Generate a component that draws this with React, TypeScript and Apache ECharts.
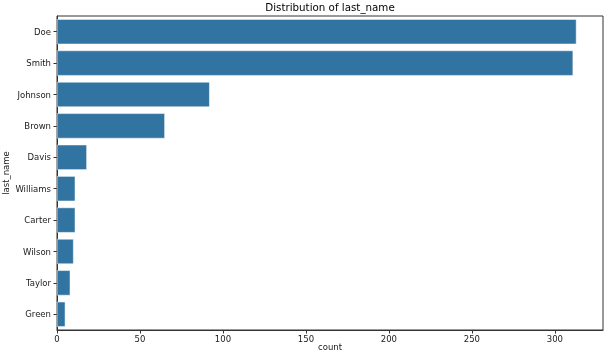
import React, { useEffect, useRef } from "react";
import * as echarts from "echarts";

const categories = ["Doe", "Smith", "Johnson", "Brown", "Davis", "Williams", "Carter", "Wilson", "Taylor", "Green"];
const counts = [313, 311, 92, 65, 18, 11, 11, 10, 8, 5];
const xTicks = { min: 0, max: 329, interval: 50 };
const title = "Distribution of last_name";
const xName = "count";
const yName = "last_name";

export default function App() {
  const ref = useRef<HTMLDivElement>(null);
  useEffect(() => {
    if (!ref.current) return;
    const chart = echarts.init(ref.current, null, { renderer: "svg" });
    const font = "DejaVu Sans";
    const textColor = "#1a1a1a";
    chart.setOption({
      animation: false,
      textStyle: { fontFamily: font },
      title: {
        text: title,
        left: 330,
        top: 2,
        padding: 0,
        textAlign: "center",
        textStyle: { fontFamily: font, fontSize: 10.3, fontWeight: "normal", color: "#000" },
      },
      grid: {
        left: 57,
        right: 3,
        top: 16,
        bottom: 24,
        containLabel: false,
        outerBoundsMode: "none",
        show: true,
        borderColor: "#333",
        borderWidth: 1,
        backgroundColor: "transparent",
      },
      graphic: [
        {
          type: "text",
          x: 6,
          y: 173,
          rotation: Math.PI / 2,
          style: {
            text: yName,
            fontFamily: font,
            fontSize: 8.5,
            fill: textColor,
            align: "center",
            verticalAlign: "middle",
          },
        },
        {
          type: "text",
          x: 330,
          y: 347,
          style: {
            text: xName,
            fontFamily: font,
            fontSize: 8.5,
            fill: textColor,
            align: "center",
            verticalAlign: "middle",
          },
        },
      ],
      xAxis: {
        type: "value",
        min: xTicks.min,
        max: xTicks.max,
        interval: xTicks.interval,
        axisLine: { show: true, lineStyle: { color: "#333", width: 1 } },
        axisTick: { show: true, length: 3.5, lineStyle: { color: "#333" } },
        axisLabel: {
          fontFamily: font,
          fontSize: 8.5,
          color: textColor,
          margin: 4,
          showMaxLabel: false,
          formatter: (v: number) => (v % 50 === 0 ? String(v) : ""),
        },
        splitLine: { show: false },
      },
      yAxis: {
        type: "category",
        data: categories,
        inverse: true,
        axisLine: { show: true, lineStyle: { color: "#333", width: 1 } },
        axisTick: { show: true, length: 3.5, alignWithLabel: true, lineStyle: { color: "#333" } },
        axisLabel: { fontFamily: font, fontSize: 8.5, color: textColor, margin: 6 },
        splitLine: { show: false },
      },
      series: [
        {
          type: "bar",
          data: counts,
          barCategoryGap: "20%",
          itemStyle: { color: "#3274a1", borderColor: "#ffffff", borderWidth: 0.5 },
        },
      ],
    });
    return () => chart.dispose();
  }, []);
  return <div ref={ref} style={{ position: "fixed", left: 0, top: 0, width: 606, height: 354 }} />;
}
